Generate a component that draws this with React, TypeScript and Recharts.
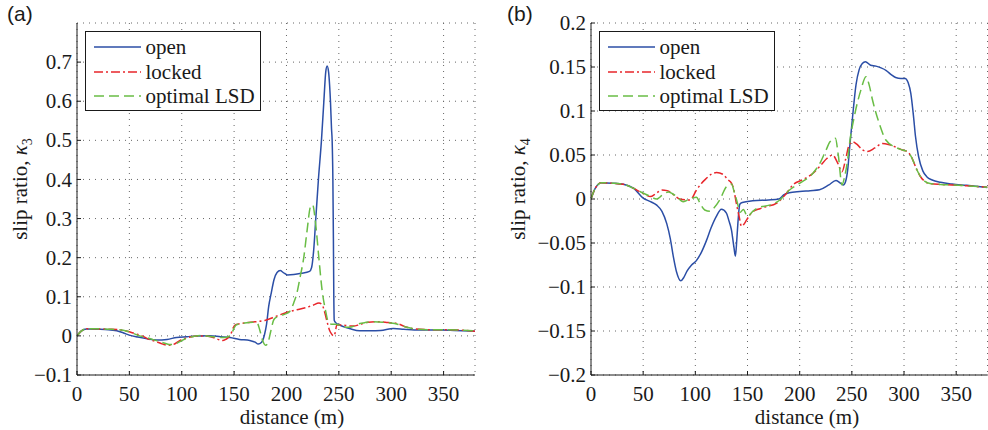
import React from 'react';
import { CartesianGrid, Legend, Line, LineChart, XAxis, YAxis } from 'recharts';

type Pt = [number, number];

const X_TICKS = [0, 50, 100, 150, 200, 250, 300, 350];
const Y_TICKS_A = [-0.1, 0, 0.1, 0.2, 0.3, 0.4, 0.5, 0.6, 0.7];
const Y_TICKS_B = [-0.2, -0.15, -0.1, -0.05, 0, 0.05, 0.1, 0.15, 0.2];

// panel (a): rear-left wheel, kappa_3  [distance m, slip ratio]
const OPEN_A: Pt[] = [
  [0, 0], [4, 0.012], [9, 0.0176], [20, 0.017], [30, 0.016], [38, 0.013], [44, 0.008], [50, 0.002],
  [58, -0.003], [66, -0.007], [76, -0.0105], [86, -0.009], [95, -0.004], [105, -0.002], [115, 0],
  [127, 0.0005], [137, -0.002], [146, -0.004], [155, -0.009], [165, -0.012], [170, -0.016], [173, -0.021],
  [176, -0.017], [179, 0.003], [181, 0.03], [183, 0.075], [185.5, 0.11], [188, 0.143], [191, 0.162],
  [194, 0.167], [197, 0.162], [201, 0.156], [207, 0.157], [214, 0.16], [222, 0.165], [224, 0.175],
  [226, 0.22], [228, 0.3], [230.5, 0.4], [233.4, 0.5], [235.7, 0.6], [237.5, 0.675], [238.8, 0.69],
  [240.2, 0.675], [241.2, 0.64], [242, 0.6], [243, 0.53], [243.6, 0.5], [244.3, 0.4], [244.8, 0.25],
  [245.2, 0.1], [245.6, 0.04], [247, 0.034], [250.5, 0.028], [255, 0.023], [260, 0.019], [270, 0.013],
  [280, 0.013], [290, 0.014], [302, 0.019], [312, 0.017], [322, 0.015], [335, 0.015], [347, 0.015],
  [360, 0.014], [380, 0.012],
];
const LOCKED_A: Pt[] = [
  [0, 0], [4, 0.012], [9, 0.018], [20, 0.018], [30, 0.017], [40, 0.016], [48, 0.012], [55, 0.006],
  [62, 0], [68, -0.008], [75, -0.014], [82, -0.021], [87, -0.024], [92, -0.022], [98, -0.012],
  [105, -0.005], [112, -0.001], [118, 0], [125, -0.001], [131, -0.005], [136, -0.01], [139, -0.012],
  [142, -0.009], [145, -0.003], [147, 0.005], [149, 0.02], [152, 0.029], [160, 0.033], [170, 0.036],
  [180, 0.04], [190, 0.05], [200, 0.06], [210, 0.067], [218, 0.072], [225, 0.078], [231, 0.084],
  [234, 0.08], [236.5, 0.06], [238.8, 0.036], [241, 0.015], [243, 0.005], [245, 0], [246.5, 0.008],
  [248, 0.028], [252, 0.028], [258, 0.026], [264, 0.025], [270, 0.029], [278, 0.035], [287, 0.036],
  [297, 0.034], [305, 0.032], [315, 0.022], [322, 0.018], [335, 0.016], [350, 0.016], [365, 0.015],
  [380, 0.012],
];
const LSD_A: Pt[] = [
  [0, 0], [4, 0.012], [9, 0.018], [20, 0.018], [30, 0.017], [40, 0.016], [48, 0.012], [54, 0.006],
  [60, 0], [66, -0.004], [72, -0.009], [78, -0.014], [84, -0.019], [88, -0.022], [92, -0.022],
  [96, -0.018], [100, -0.012], [106, -0.005], [112, -0.001], [118, 0.001], [124, 0], [130, -0.002],
  [136, -0.004], [141, -0.004], [145, -0.001], [148, 0.008], [150, 0.02], [152, 0.028], [160, 0.033],
  [168, 0.035], [172, 0.033], [174.5, 0.015], [177, -0.01], [180, -0.024], [182, -0.02], [185, 0.012],
  [188, 0.042], [192, 0.05], [198, 0.055], [203, 0.062], [207, 0.085], [210, 0.11], [213, 0.15],
  [216.5, 0.2], [219.7, 0.27], [222.9, 0.33], [225, 0.335], [227.7, 0.29], [230.9, 0.2], [234, 0.117],
  [237.2, 0.066], [240.4, 0.033], [243, 0.03], [247, 0.03], [252, 0.026], [257, 0.022], [262, 0.023],
  [268, 0.03], [275, 0.034], [283, 0.036], [292, 0.035], [300, 0.033], [306, 0.03], [315, 0.022],
  [322, 0.018], [335, 0.016], [350, 0.016], [365, 0.015], [380, 0.013],
];

// panel (b): rear-right wheel, kappa_4
const OPEN_B: Pt[] = [
  [0, 0], [4, 0.012], [10, 0.0185], [20, 0.018], [31, 0.0167], [41, 0.012], [50, 0.001], [57, -0.003],
  [63, -0.007], [68, -0.014], [72.6, -0.028], [76, -0.045], [79, -0.066], [82, -0.083], [86, -0.093],
  [89, -0.089], [92, -0.082], [96.4, -0.075], [101, -0.07], [106, -0.06], [110.7, -0.047], [115, -0.033],
  [120, -0.02], [125, -0.0117], [129.8, -0.016], [132, -0.024], [134.6, -0.035], [137, -0.055],
  [138.4, -0.065], [139.8, -0.045], [141, -0.024], [142.6, -0.006], [145, -0.004], [155, -0.002],
  [170, -0.001], [180, 0], [185, 0.005], [190, 0.007], [200, 0.0085], [210, 0.0095], [219, 0.0105],
  [228, 0.016], [234.8, 0.021], [238, 0.019], [241.8, 0.016], [244, 0.02], [246, 0.033], [248, 0.06],
  [250.7, 0.0935], [254, 0.13], [257, 0.147], [260, 0.154], [263, 0.156], [268, 0.152], [273, 0.151],
  [278, 0.149], [283, 0.146], [288, 0.141], [292, 0.138], [297, 0.137], [301, 0.137], [304, 0.132],
  [306.5, 0.12], [309, 0.095], [311, 0.071], [314, 0.048], [318, 0.032], [322, 0.025], [327, 0.0216],
  [335, 0.019], [346, 0.017], [360, 0.0155], [380, 0.013],
];
const LOCKED_B: Pt[] = [
  [0, 0], [4, 0.012], [10, 0.0185], [20, 0.018], [31, 0.0167], [41, 0.012], [47, 0.008], [52, 0.005],
  [57, 0.0027], [62, 0.006], [67.8, 0.0102], [73, 0.0095], [79, 0.005], [85, 0], [91, -0.001],
  [95, -0.001], [101, 0.01], [106, 0.018], [110.7, 0.0235], [115, 0.028], [120.3, 0.03], [126.6, 0.028],
  [131, 0.022], [134.6, 0.018], [137, 0.01], [139.3, -0.005], [142, -0.02], [144.2, -0.031],
  [147, -0.028], [149, -0.024], [155, -0.0144], [162, -0.011], [168, -0.0087], [177.6, -0.005],
  [187, 0.006], [193.4, 0.016], [203, 0.022], [212.5, 0.029], [220, 0.038], [226, 0.046], [231.6, 0.05],
  [236, 0.042], [240.6, 0.031], [244, 0.045], [247, 0.06], [250.7, 0.065], [255, 0.062], [260, 0.056],
  [265, 0.054], [272, 0.058], [279.3, 0.063], [285, 0.062], [292, 0.059], [298.4, 0.0557], [303, 0.054],
  [307, 0.048], [312, 0.034], [316, 0.025], [320, 0.02], [325, 0.0175], [335, 0.0165], [346, 0.016],
  [360, 0.015], [380, 0.0133],
];
const LSD_B: Pt[] = [
  [0, 0], [4, 0.012], [10, 0.0185], [20, 0.018], [31, 0.0167], [41, 0.012], [47.7, 0.008], [55, 0.004],
  [63, 0], [68, 0.004], [74, 0.008], [78, 0.006], [82, 0.003], [88.4, -0.003], [94.8, 0], [101, 0.002],
  [105, -0.006], [109, -0.0125], [114, -0.014], [118, -0.01], [123.4, -0.001], [129.8, 0.014],
  [134.6, 0.017], [137.7, 0.006], [140, -0.003], [143, -0.015], [146, -0.012], [150, -0.02],
  [155, -0.014], [160, -0.01], [171, -0.007], [180, -0.002], [190, 0.01], [199.8, 0.0178],
  [212.5, 0.029], [220, 0.042], [225.3, 0.0557], [229, 0.065], [234.2, 0.069], [237, 0.05],
  [240.6, 0.016], [243, 0.025], [246, 0.045], [248, 0.065], [252.3, 0.0935], [258.7, 0.124],
  [263.5, 0.139], [266.5, 0.13], [269.8, 0.1125], [276.2, 0.086], [282.6, 0.067], [292, 0.0587],
  [298.4, 0.0557], [303, 0.054], [307, 0.048], [312, 0.034], [316, 0.025], [320, 0.02], [325, 0.0175],
  [335, 0.0165], [346, 0.016], [360, 0.015], [380, 0.0133],
];

const SERIES = [
  { name: 'open', color: '#2b4ea6', dash: undefined as string | undefined },
  { name: 'locked', color: '#e8262b', dash: '9 3 2 3' },
  { name: 'optimal LSD', color: '#69bd45', dash: '10 5' },
];

const SERIF = "'Liberation Serif', 'Times New Roman', serif";
const INK = '#1a1a1a';

const toRows = (pts: Pt[]) => pts.map(([d, v]) => ({ d, v }));

const fmtTick = (v: number) => {
  const r = Math.round(v * 1000) / 1000;
  if (r === 0) return '0';
  return r < 0 ? `\u2212${Math.abs(r)}` : `${r}`;
};

// tick labels drawn by hand so the serif face is set on the <text> itself
const XTick = (p: any) => (
  <text x={p.x} y={p.y} dy="0.75em" textAnchor="middle" fontFamily={SERIF} fontSize={21} fill={INK}>
    {p.payload.value}
  </text>
);
const YTick = (p: any) => (
  <text x={p.x} y={p.y} dy="0.34em" textAnchor="end" fontFamily={SERIF} fontSize={21} fill={INK}>
    {fmtTick(p.payload.value)}
  </text>
);

const LegendBox = () => (
  <div
    style={{
      border: `1px solid ${INK}`,
      background: '#fff',
      width: 176,
      height: 80,
      boxSizing: 'border-box',
      padding: '3px 0 0 8px',
      fontFamily: SERIF,
      fontSize: 21,
      color: INK,
    }}
  >
    {SERIES.map((s) => (
      <div key={s.name} style={{ display: 'flex', alignItems: 'center', height: 24.7 }}>
        <svg width={47} height={4} style={{ flex: 'none' }}>
          <line x1={0} x2={47} y1={2} y2={2} stroke={s.color} strokeWidth={1.5} strokeDasharray={s.dash} />
        </svg>
        <span style={{ marginLeft: 5, lineHeight: '24px' }}>{s.name}</span>
      </div>
    ))}
  </div>
);

interface PanelProps {
  left: number;
  width: number;
  plotLeft: number;
  plotRight: number;
  data: Pt[][];
  yDomain: [number, number];
  yTicks: number[];
  tag: string;
  sub: string;
  yTitleX: number;
  xTitleX: number;
}

const Panel: React.FC<PanelProps> = ({ left, width, plotLeft, plotRight, data, yDomain, yTicks, tag, sub, yTitleX, xTitleX }) => {
  const yAxisW = 60;
  return (
    <>
      <div style={{ position: 'absolute', left, top: 0 }}>
        <LineChart
          width={width}
          height={430}
          margin={{ top: 23, bottom: 0, left: plotLeft - left - yAxisW, right: left + width - plotRight }}
        >
          <CartesianGrid stroke="#666" strokeDasharray="1 5" />
          <XAxis
            dataKey="d"
            type="number"
            domain={[0, 380]}
            ticks={X_TICKS}
            allowDataOverflow
            height={55}
            stroke={INK}
            tick={XTick}
            tickSize={-4}
            tickMargin={14}
          />
          <XAxis
            xAxisId="top"
            orientation="top"
            type="number"
            domain={[0, 380]}
            ticks={X_TICKS}
            height={0}
            stroke={INK}
            tickSize={-4}
            tickFormatter={() => ''}
          />
          <YAxis
            type="number"
            domain={yDomain}
            ticks={yTicks}
            allowDataOverflow
            width={yAxisW}
            stroke={INK}
            tick={YTick}
            tickSize={-4}
            tickMargin={9}
          />
          <YAxis
            yAxisId="right"
            orientation="right"
            type="number"
            domain={yDomain}
            ticks={yTicks}
            width={0}
            stroke={INK}
            tickSize={-4}
            tickFormatter={() => ''}
          />
          <Legend
            layout="horizontal"
            verticalAlign="middle"
            align="center"
            wrapperStyle={{ left: plotLeft - left + 7.5, top: 30.5, width: 'auto' }}
            content={() => <LegendBox />}
          />
          {SERIES.map((s, i) => (
            <Line
              key={s.name}
              name={s.name}
              data={toRows(data[i])}
              dataKey="v"
              type="monotone"
              stroke={s.color}
              strokeWidth={1.5}
              strokeDasharray={s.dash}
              dot={false}
              activeDot={false}
              isAnimationActive={false}
            />
          ))}
        </LineChart>
      </div>
      <div
        style={{
          position: 'absolute',
          left: left + 7,
          top: 2,
          fontFamily: "'Liberation Sans', Arial, sans-serif",
          fontSize: 21,
          color: INK,
        }}
      >
        {tag}
      </div>
      <div
        style={{
          position: 'absolute',
          left: yTitleX - 110,
          top: 189 - 13,
          width: 220,
          height: 26,
          lineHeight: '26px',
          textAlign: 'center',
          transform: 'rotate(-90deg)',
          fontFamily: SERIF,
          fontSize: 21,
          color: INK,
          whiteSpace: 'nowrap',
        }}
      >
        slip ratio, <i>κ</i>
        <sub style={{ fontSize: 14 }}>{sub}</sub>
      </div>
      <div
        style={{
          position: 'absolute',
          left: xTitleX - 100,
          top: 404,
          width: 200,
          height: 26,
          lineHeight: '26px',
          textAlign: 'center',
          fontFamily: SERIF,
          fontSize: 21,
          color: INK,
        }}
      >
        distance (m)
      </div>
    </>
  );
};

export default function App() {
  return (
    <div
      style={{
        position: 'absolute',
        left: 0,
        top: 0,
        width: 988,
        height: 430,
        background: '#fff',
        overflow: 'hidden',
      }}
    >
      <Panel
        left={0}
        width={480}
        plotLeft={77}
        plotRight={475}
        data={[OPEN_A, LOCKED_A, LSD_A]}
        yDomain={[-0.1, 0.8]}
        yTicks={Y_TICKS_A}
        tag="(a)"
        sub="3"
        yTitleX={20}
        xTitleX={292}
      />
      <Panel
        left={500}
        width={488}
        plotLeft={591}
        plotRight={987.5}
        data={[OPEN_B, LOCKED_B, LSD_B]}
        yDomain={[-0.2, 0.2]}
        yTicks={Y_TICKS_B}
        tag="(b)"
        sub="4"
        yTitleX={518}
        xTitleX={807}
      />
    </div>
  );
}
